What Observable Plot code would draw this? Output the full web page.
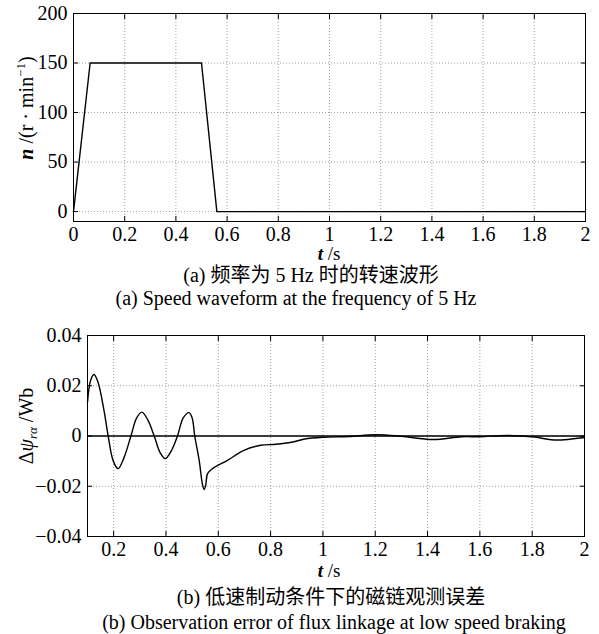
<!DOCTYPE html>
<html><head><meta charset="utf-8">
<script src="https://cdn.jsdelivr.net/npm/d3@7"></script>
<script src="https://cdn.jsdelivr.net/npm/@observablehq/plot@0.6"></script>
<style>
body{margin:0;background:#fff;}
#wrap{position:relative;width:599px;height:634px;font-family:"Liberation Serif","Times New Roman","Noto Sans CJK SC",serif;color:#000;}
#wrap svg{position:absolute;left:0;overflow:visible;}
.cap{position:absolute;white-space:nowrap;font-size:20px;line-height:1;transform:translate(-50%,-50%);}
</style></head>
<body><div id="wrap"></div>
<script>
// ---- data ----
const speedT = [0, 0.065, 0.5, 0.56, 2];
const speedN = [0, 150, 150, 0, 0];
const speedXTicks = [0, 0.2, 0.4, 0.6, 0.8, 1, 1.2, 1.4, 1.6, 1.8, 2];
const speedYTicks = [0, 50, 100, 150, 200];

const fluxT = [0.1, 0.112, 0.125, 0.14, 0.163, 0.179, 0.198, 0.217, 0.24, 0.266, 0.288, 0.308, 0.33, 0.355, 0.377, 0.397, 0.42, 0.444, 0.466, 0.488, 0.5, 0.51, 0.527, 0.539, 0.546, 0.552, 0.559, 0.578, 0.635, 0.698, 0.762, 0.82, 0.88, 0.93, 1.0, 1.1, 1.2, 1.3, 1.42, 1.53, 1.6, 1.705, 1.81, 1.883, 2.0];
const fluxE = [0.0135, 0.0222, 0.0245, 0.0215, 0.0102, 0, -0.0098, -0.013, -0.0085, 0, 0.0072, 0.0095, 0.0065, 0, -0.0065, -0.009, -0.006, 0, 0.0072, 0.0093, 0.0072, 0, -0.0097, -0.019, -0.0213, -0.0195, -0.015, -0.013, -0.0097, -0.0057, -0.0037, -0.0033, -0.0025, -0.0012, -0.0005, -0.0002, 0.0005, -0.0001, -0.0014, -0.0003, -0.0003, 0.0002, -0.0004, -0.0016, -0.0006];
const fluxXTicks = [0.2, 0.4, 0.6, 0.8, 1, 1.2, 1.4, 1.6, 1.8, 2];
const fluxYTicks = [-0.04, -0.02, 0, 0.02, 0.04];

const capA1 = "(a) 频率为 5 Hz 时的转速波形";
const capA2 = "(a) Speed waveform at the frequency of 5 Hz";
const capB1 = "(b) 低速制动条件下的磁链观测误差";
const capB2 = "(b) Observation error of flux linkage at low speed braking";

const FONT = '"Liberation Serif","Times New Roman","Noto Sans CJK SC",serif';
const fmtNum = d => (d < 0 ? "\u2212" : "") + String(Math.abs(d));
const gridStyle = {stroke: "#888", strokeOpacity: 1, strokeDasharray: "1,2", strokeWidth: 0.8};

function frameAxes(xt, yt) {
  return [
    Plot.gridX(xt, gridStyle),
    Plot.gridY(yt, gridStyle),
    Plot.axisX(xt, {anchor: "bottom", tickSize: -5, tickFormat: () => "", label: null}),
    Plot.axisX(xt, {anchor: "top", tickSize: -5, tickFormat: () => "", label: null}),
    Plot.axisY(yt, {anchor: "left", tickSize: -5, tickFormat: () => "", label: null}),
    Plot.axisY(yt, {anchor: "right", tickSize: -5, tickFormat: () => "", label: null}),
    Plot.axisX(xt, {anchor: "bottom", tickSize: 0, tickPadding: 5, tickFormat: fmtNum, label: null, fontSize: 20, fontFamily: FONT}),
    Plot.axisY(yt, {anchor: "left", tickSize: 0, tickPadding: 6, tickFormat: fmtNum, label: null, fontSize: 20, fontFamily: FONT}),
    Plot.frame({stroke: "#000", strokeWidth: 1})
  ];
}

const wrap = document.getElementById("wrap");

// ---- chart (a) ----
const speed = speedT.map((t, i) => ({t, n: speedN[i]}));
const svgA = Plot.plot({
  width: 599, height: 255,
  marginLeft: 73, marginRight: 14, marginTop: 13, marginBottom: 34,
  style: {fontSize: "20px", color: "#000", background: "transparent"},
  x: {domain: [0, 2], label: null},
  y: {domain: [-10, 200], label: null},
  marks: [
    ...frameAxes(speedXTicks, speedYTicks),
    Plot.line(speed, {x: "t", y: "n", stroke: "#000", strokeWidth: 1.4})
  ]
});
svgA.style.top = "0px";
wrap.appendChild(svgA);

// ---- chart (b) ----
const flux = fluxT.map((t, i) => ({t, e: fluxE[i]}));
const svgB = Plot.plot({
  width: 599, height: 240,
  marginLeft: 87, marginRight: 15, marginTop: 15, marginBottom: 24,
  style: {fontSize: "20px", color: "#000", background: "transparent"},
  x: {domain: [0.1, 2], label: null},
  y: {domain: [-0.04, 0.04], label: null},
  marks: [
    ...frameAxes(fluxXTicks, fluxYTicks),
    Plot.ruleY([0], {stroke: "#000", strokeWidth: 1.3}),
    Plot.line(flux, {x: "t", y: "e", stroke: "#000", strokeWidth: 1.4, curve: "catmull-rom"})
  ]
});
svgB.style.top = "320px";
wrap.appendChild(svgB);

// ---- axis titles ----
function xTitle(svg, cx, y) {
  const t = d3.select(svg).append("text").attr("x", cx).attr("y", y)
    .attr("text-anchor", "middle").attr("font-size", 19).attr("fill", "#000");
  t.append("tspan").attr("font-style", "italic").attr("font-weight", "bold").text("t");
  t.append("tspan").text(" /s");
}
xTitle(svgA, 329, 260);
xTitle(svgB, 329, 257);

// y title (a)
{
  const t = d3.select(svgA).append("text").attr("transform", "translate(33,108) rotate(-90)")
    .attr("text-anchor", "middle").attr("font-size", 20).attr("fill", "#000");
  t.append("tspan").attr("font-style", "italic").attr("font-weight", "bold").text("n");
  t.append("tspan").text(" /(r \u00b7 min");
  t.append("tspan").attr("font-size", 13).attr("dy", -8).text("\u22121");
  t.append("tspan").attr("dy", 8).text(")");
}
// y title (b)
{
  const t = d3.select(svgB).append("text").attr("transform", "translate(33,106) rotate(-90)")
    .attr("text-anchor", "middle").attr("font-size", 20).attr("fill", "#000");
  t.append("tspan").text("\u0394");
  t.append("tspan").attr("font-style", "italic").text("\u03c8");
  t.append("tspan").attr("font-style", "italic").attr("font-size", 13).attr("dy", 4).text("r\u03b1");
  t.append("tspan").attr("dy", -4).text(" /Wb");
}

for (const svg of [svgA, svgB]) {
  d3.select(svg).attr("font-family", FONT).style("font-family", FONT);
  d3.select(svg).selectAll("g, text, tspan").attr("font-family", FONT).style("font-family", FONT);
}

// ---- captions ----
function cap(text, cx, cy) {
  const d = document.createElement("div");
  d.className = "cap"; d.textContent = text;
  d.style.left = cx + "px"; d.style.top = cy + "px";
  wrap.appendChild(d);
}
cap(capA1, 311, 275);
cap(capA2, 296, 298);
cap(capB1, 331, 597);
cap(capB2, 334, 622);
</script></body></html>
